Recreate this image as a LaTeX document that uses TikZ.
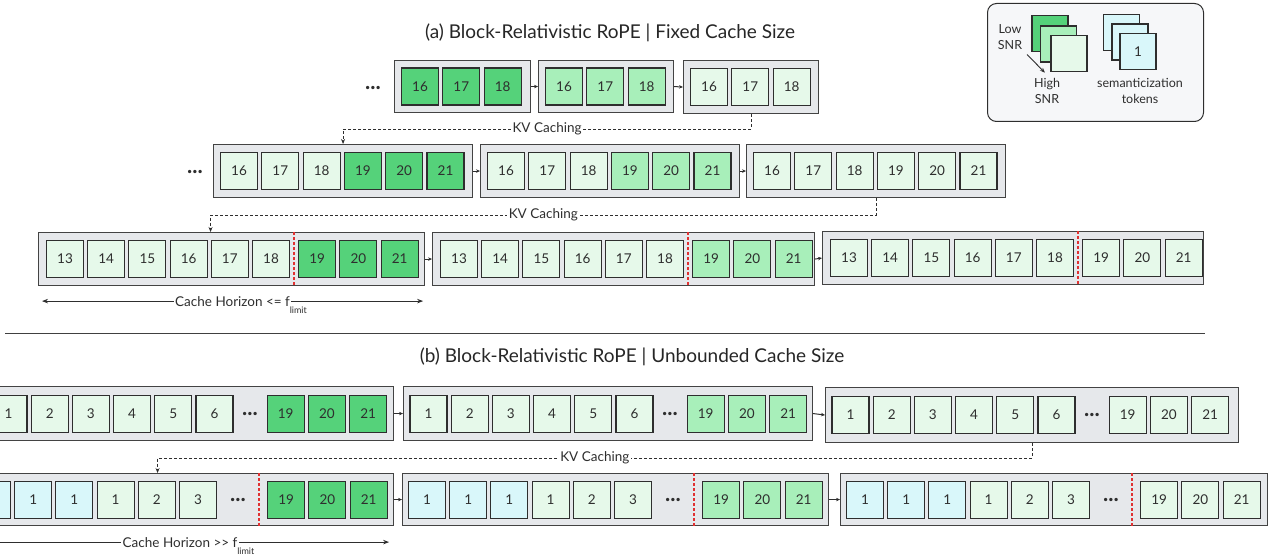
\documentclass[tikz,border=0pt]{standalone}
\usepackage{fontspec}
\setmainfont{Lato}
\usepackage{xcolor}
\usepackage{tikz}
\usetikzlibrary{calc}
\usetikzlibrary{arrows.meta,positioning}

\definecolor{lowgreen}{HTML}{E6F9EA}
\definecolor{midgreen}{HTML}{A8EFBA}
\definecolor{highgreen}{HTML}{55D27A}
\definecolor{semcyan}{HTML}{D9F7FA}
\definecolor{cachegray}{HTML}{E6E8EB}
\definecolor{legendbg}{HTML}{F6F7F9}
\definecolor{inkgray}{HTML}{2E2E2E}
\definecolor{cutred}{HTML}{E03131}

\tikzset{
  tok/.style={draw=inkgray, line width=1.1pt, minimum size=37pt, inner sep=0pt, text=inkgray, font=\fontsize{13.5}{14}\selectfont},
  cachebox/.style={draw=inkgray!90, fill=cachegray, line width=1.1pt, inner sep=0pt, anchor=north west},
  flow/.style={-{Stealth[length=4pt,width=3.5pt]}, line width=1pt, draw=inkgray},
  kvline/.style={-{Stealth[length=5pt,width=4pt]}, dash pattern=on 3pt off 2pt, line width=0.9pt, draw=inkgray},
  kvlabel/.style={fill=white, inner sep=1.5pt, text=inkgray, font=\fontsize{13.5}{13.5}\selectfont},
  horizon/.style={{Stealth[length=6pt,width=4.5pt]}-{Stealth[length=6pt,width=4.5pt]}, line width=1pt, draw=inkgray},
  hlabel/.style={fill=white, inner sep=1.5pt, text=inkgray, font=\fontsize{13.5}{13.5}\selectfont},
  sublabel/.style={inner sep=0pt, text=inkgray, font=\fontsize{9}{9}\selectfont},
  cutline/.style={draw=cutred, dash pattern=on 3pt off 2pt, line width=1.2pt},
  dots/.style={inner sep=0pt, text=inkgray, font=\fontsize{22}{22}\selectfont\bfseries},
  titletext/.style={text=black!85, font=\fontsize{19}{19}\selectfont},
  legendtext/.style={align=center, text=inkgray, font=\fontsize{12.5}{16}\selectfont}
}

\begin{document}
\begin{tikzpicture}[x=1pt,y=-1pt]
  \useasboundingbox (0,0) rectangle (1271,556);
  \clip (0,0) rectangle (1271,556);

  % (a) fixed cache size
  \node[titletext] (titleA) at (610,33) {(a) Block-Relativistic RoPE | Fixed Cache Size};

  \node[dots] (a0dots) at (373,88) {...};
  \node[cachebox, minimum width=136pt, minimum height=52pt] (a1) at (394,60) {};
  \node[cachebox, minimum width=135pt, minimum height=52pt] (a2) at (538,60) {};
  \node[cachebox, minimum width=135pt, minimum height=53pt] (a3) at (683,60) {};
  \foreach \t [count=\i] in {16,17,18}
    \node[tok, fill=highgreen] (a1-\i) at ($(a1.west)+({26+(\i-1)*41.3},0)$) {\t};
  \foreach \t [count=\i] in {16,17,18}
    \node[tok, fill=midgreen] (a2-\i) at ($(a2.west)+({26+(\i-1)*41.3},0)$) {\t};
  \foreach \t [count=\i] in {16,17,18}
    \node[tok, fill=lowgreen] (a3-\i) at ($(a3.west)+({26+(\i-1)*41.3},0)$) {\t};
  \draw[flow] (a1.east) -- (a2.west);
  \draw[flow] (a2.east) -- (a3.west);

  \node[dots] (b0dots) at (195,172) {...};
  \node[cachebox, minimum width=259pt, minimum height=53pt] (b1) at (213,144) {};
  \node[cachebox, minimum width=259pt, minimum height=53pt] (b2) at (480,144) {};
  \node[cachebox, minimum width=259pt, minimum height=53pt] (b3) at (746,144) {};
  \foreach \t/\c [count=\i] in {16/lowgreen,17/lowgreen,18/lowgreen,19/highgreen,20/highgreen,21/highgreen}
    \node[tok, fill=\c] (b1-\i) at ($(b1.west)+({26+(\i-1)*41.3},0)$) {\t};
  \foreach \t/\c [count=\i] in {16/lowgreen,17/lowgreen,18/lowgreen,19/midgreen,20/midgreen,21/midgreen}
    \node[tok, fill=\c] (b2-\i) at ($(b2.west)+({26+(\i-1)*41.3},0)$) {\t};
  \foreach \t [count=\i] in {16,17,18,19,20,21}
    \node[tok, fill=lowgreen] (b3-\i) at ($(b3.west)+({26+(\i-1)*41.3},0)$) {\t};
  \draw[flow] (b1.east) -- (b2.west);
  \draw[flow] (b2.east) -- (b3.west);

  \coordinate (kv1) at ($(a3.south)!0.5!(b1.north)$);
  \draw[kvline] (a3.south) |- (kv1) -| (b1.north);
  \node[kvlabel] (kv1text) at (kv1) {KV Caching};

  \node[cachebox, minimum width=386pt, minimum height=53pt] (c1) at (38,232) {};
  \node[cachebox, minimum width=382pt, minimum height=53pt] (c2) at (432,232) {};
  \node[cachebox, minimum width=381pt, minimum height=53pt] (c3) at (822,231) {};
  \foreach \t/\c [count=\i] in {13/lowgreen,14/lowgreen,15/lowgreen,16/lowgreen,17/lowgreen,18/lowgreen,19/highgreen,20/highgreen,21/highgreen}
    \node[tok, fill=\c] (c1-\i) at ($(c1.west)+({27+(\i-1)*41.2+5*(\i>6)},0)$) {\t};
  \foreach \t/\c [count=\i] in {13/lowgreen,14/lowgreen,15/lowgreen,16/lowgreen,17/lowgreen,18/lowgreen,19/midgreen,20/midgreen,21/midgreen}
    \node[tok, fill=\c] (c2-\i) at ($(c2.west)+({27+(\i-1)*41.2+5*(\i>6)},0)$) {\t};
  \foreach \t [count=\i] in {13,14,15,16,17,18,19,20,21}
    \node[tok, fill=lowgreen] (c3-\i) at ($(c3.west)+({27+(\i-1)*41.2+5*(\i>6)},0)$) {\t};
  \foreach \n in {c1,c2,c3}
    \draw[cutline] ($(\n.north west)+(256,0)$) -- ($(\n.south west)+(256,0)$);
  \draw[flow] (c1.east) -- (c2.west);
  \draw[flow] (c2.east) -- (c3.west);

  \coordinate (c1in) at ([xshift=-21pt]c1.north);
  \coordinate (kv2) at ($(b3.south)!0.5!(c1in)$);
  \draw[kvline] (b3.south) |- (kv2) -| (c1in);
  \node[kvlabel] (kv2text) at (kv2) {KV Caching};

  \coordinate (h1a) at ($(c1.south west)+(4,15)$);
  \coordinate (h1b) at ($(c1.south east)+(-2,15)$);
  \draw[horizon] (h1a) -- (h1b);
  \node[hlabel] (h1text) at ($(h1a)!0.5!(h1b)$) {Cache Horizon <= f};
  \node[sublabel, anchor=north west] (h1sub) at ([xshift=-2pt,yshift=1pt]h1text.south east) {limit};

  \draw[line width=1pt, draw=black!75] (5,333) -- (1205,333);

  % (b) unbounded cache size
  \node[titletext] (titleB) at (632,357) {(b) Block-Relativistic RoPE | Unbounded Cache Size};

  \node[cachebox, minimum width=410pt, minimum height=54pt] (d1) at (-17,386) {};
  \node[cachebox, minimum width=409pt, minimum height=54pt] (d2) at (403,386) {};
  \node[cachebox, minimum width=413pt, minimum height=55pt] (d3) at (825,387) {};
  \foreach \t/\c [count=\i] in {1/lowgreen,2/lowgreen,3/lowgreen,4/lowgreen,5/lowgreen,6/lowgreen,19/highgreen,20/highgreen,21/highgreen}
    \node[tok, fill=\c] (d1-\i) at ($(d1.west)+({25.5+(\i-1)*41.2+30*(\i>6)},0)$) {\t};
  \foreach \t/\c [count=\i] in {1/lowgreen,2/lowgreen,3/lowgreen,4/lowgreen,5/lowgreen,6/lowgreen,19/midgreen,20/midgreen,21/midgreen}
    \node[tok, fill=\c] (d2-\i) at ($(d2.west)+({25.5+(\i-1)*41.2+30*(\i>6)},0)$) {\t};
  \foreach \t [count=\i] in {1,2,3,4,5,6,19,20,21}
    \node[tok, fill=lowgreen] (d3-\i) at ($(d3.west)+({25.5+(\i-1)*41.2+30*(\i>6)},0)$) {\t};
  \foreach \n in {d1,d2,d3}
    \node[dots] (\n dots) at ($(\n.west)+(267,0)$) {...};
  \draw[flow] (d1.east) -- (d2.west);
  \draw[flow] (d2.east) -- (d3.west);

  \node[cachebox, minimum width=426pt, minimum height=52pt] (e1) at (-33,473) {};
  \node[cachebox, minimum width=426pt, minimum height=52pt] (e2) at (402,473) {};
  \node[cachebox, minimum width=427pt, minimum height=52pt] (e3) at (840,473) {};
  \foreach \t/\c [count=\i] in {1/semcyan,1/semcyan,1/semcyan,1/lowgreen,2/lowgreen,3/lowgreen,19/highgreen,20/highgreen,21/highgreen}
    \node[tok, fill=\c] (e1-\i) at ($(e1.west)+({25+(\i-1)*41.2+47*(\i>6)},0)$) {\t};
  \foreach \t/\c [count=\i] in {1/semcyan,1/semcyan,1/semcyan,1/lowgreen,2/lowgreen,3/lowgreen,19/midgreen,20/midgreen,21/midgreen}
    \node[tok, fill=\c] (e2-\i) at ($(e2.west)+({25+(\i-1)*41.2+47*(\i>6)},0)$) {\t};
  \foreach \t/\c [count=\i] in {1/semcyan,1/semcyan,1/semcyan,1/lowgreen,2/lowgreen,3/lowgreen,19/lowgreen,20/lowgreen,21/lowgreen}
    \node[tok, fill=\c] (e3-\i) at ($(e3.west)+({25+(\i-1)*41.2+47*(\i>6)},0)$) {\t};
  \foreach \n in {e1,e2,e3} {
    \node[dots] (\n dots) at ($(\n.west)+(271,0)$) {...};
    \draw[cutline] ($(\n.north west)+(292,0)$) -- ($(\n.south west)+(292,0)$);
  }
  \draw[flow] (e1.east) -- (e2.west);
  \draw[flow] (e2.east) -- (e3.west);

  \coordinate (e1in) at ([xshift=-23pt]e1.north);
  \coordinate (kv3) at ($(d3.south)!0.5!(e1in)$);
  \draw[kvline] (d3.south) |- (kv3) -| (e1in);
  \node[kvlabel] (kv3text) at (kv3) {KV Caching};

  \coordinate (h2a) at ($(e1.south west)+(4,16)$);
  \coordinate (h2b) at ($(e1.south east)+(-5,16)$);
  \draw[horizon] (h2a) -- (h2b);
  \node[hlabel] (h2text) at ($(h2a)!0.5!(h2b)$) {Cache Horizon >{}> f};
  \node[sublabel, anchor=north west] (h2sub) at ([xshift=-2pt,yshift=1pt]h2text.south east) {limit};

  % legend
  \node[draw=inkgray, fill=legendbg, rounded corners=9pt, line width=1pt, minimum width=216pt, minimum height=118pt, anchor=north west] (legend) at (987,3) {};
  \node[tok, fill=highgreen, minimum size=36pt] (lg1) at (1050,33.5) {};
  \node[tok, fill=midgreen, minimum size=36pt] (lg2) at (1058.5,44) {};
  \node[tok, fill=lowgreen, minimum size=36pt] (lg3) at (1069,53.5) {};
  \node[tok, fill=semcyan, minimum size=36pt] (ls1) at (1121.5,32.5) {};
  \node[tok, fill=semcyan, minimum size=36pt] (ls2) at (1130,42) {};
  \node[tok, fill=semcyan, minimum size=36pt] (ls3) at (1138,51.5) {1};
  \node[legendtext] (lowsnr) at (1010,37) {Low\\SNR};
  \node[legendtext] (highsnr) at (1047,91) {High\\SNR};
  \node[legendtext] (semtok) at (1140,91) {semanticization\\tokens};
  \draw[-{Stealth[length=5pt,width=4pt]}, line width=0.9pt, draw=inkgray, shorten <=2pt, shorten >=3pt] (lowsnr.south east) -- (highsnr.north);
\end{tikzpicture}
\end{document}
